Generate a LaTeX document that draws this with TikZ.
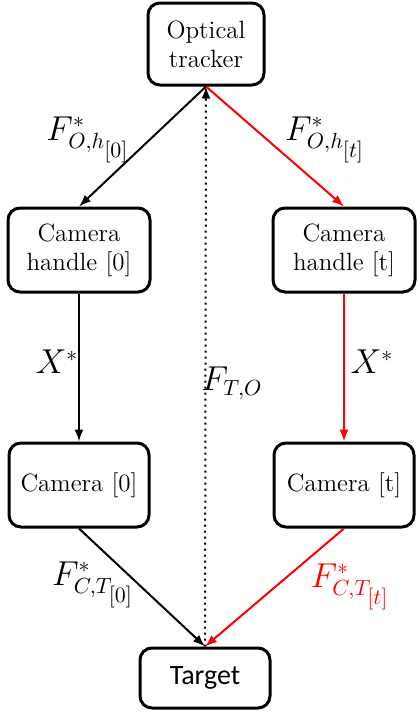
\documentclass[tikz,border=0pt]{standalone}
\usepackage{amsmath}
\usepackage{fontspec}
\newfontfamily\targetfont{Carlito}
\usetikzlibrary{arrows.meta}

\begin{document}
\begin{tikzpicture}[x=0.5pt, y=-0.5pt,
  box/.style={draw, line width=1.5pt, rounded corners=6pt, align=center,
    font=\rmfamily\fontsize{12.5}{14.5}\selectfont, inner sep=0pt},
  arr/.style={-{Latex[length=6pt,width=4.5pt]}, line width=1pt},
  lbl/.style={font=\fontsize{16}{18}\selectfont}]
  \useasboundingbox (0,0) rectangle (417,713);

  % boxes
  \node[box, minimum width=58pt, minimum height=41pt] (ot) at (206,44) {Optical\\tracker};
  \node[box, minimum width=71pt, minimum height=42pt] (hd0) at (79,250) {Camera\\handle [0]};
  \node[box, minimum width=71pt, minimum height=42pt] (hdt) at (344,250) {Camera\\handle [t]};
  \node[box, minimum width=70pt, minimum height=42pt] (cam0) at (79,485) {Camera [0]};
  \node[box, minimum width=70pt, minimum height=42pt] (camt) at (344,485) {Camera [t]};
  \node[box, minimum width=65pt, minimum height=30pt, font=\targetfont\fontsize{14}{16}\selectfont] (tg) at (205,678) {Target};

  % connectors
  \draw[arr, dotted] (tg.north) -- (ot.south);
  \draw[arr] (ot.south) -- (hd0.north);
  \draw[arr] (hd0.south) -- (cam0.north);
  \draw[arr] (cam0.south) -- (tg.north);
  \draw[arr, red] (ot.south) -- (hdt.north);
  \draw[arr, red] (hdt.south) -- (camt.north);
  \draw[arr, red] (camt.south) -- (tg.north);

  % labels
  \node[lbl] (l1) at (88,140) {$F^*_{O,h_{\scriptstyle[0]}}$};
  \node[lbl] (l2) at (325,140) {$F^*_{O,h_{\scriptstyle[t]}}$};
  \node[lbl] (l3) at (57,362) {$X^*$};
  \node[lbl] (l4) at (372,362) {$X^*$};
  \node[lbl] (l5) at (232,383) {$F_{T,O}$};
  \node[lbl] (l6) at (93,585) {$F^*_{C,T_{\scriptstyle[0]}}$};
  \node[lbl, red] (l7) at (350,587) {$F^*_{C,T_{\scriptstyle[t]}}$};
\end{tikzpicture}
\end{document}
